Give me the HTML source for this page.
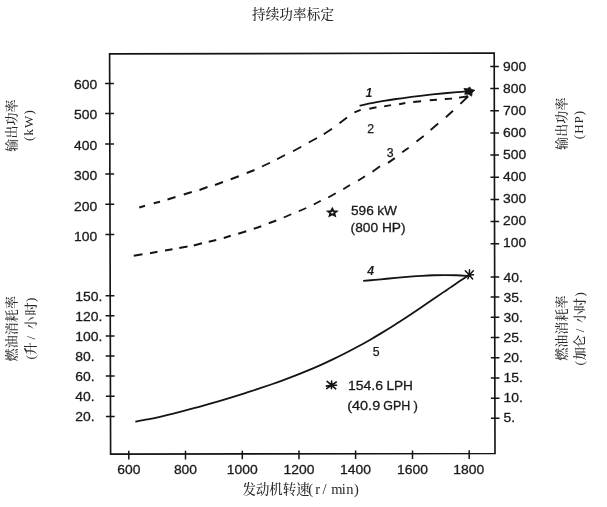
<!DOCTYPE html>
<html lang="zh"><head><meta charset="utf-8"><title>持续功率标定</title>
<style>html,body{margin:0;padding:0;background:#fff;}svg{display:block;}.n{font-family:"Liberation Sans","Noto Sans CJK SC",sans-serif;font-size:13.2px;fill:#1a1a1a;stroke:#1a1a1a;stroke-width:0.3px;}.c{font-family:"Liberation Serif","Noto Serif CJK SC",serif;font-size:13.5px;fill:#2a2a2a;font-weight:500;}.i{font-family:"Liberation Sans",sans-serif;font-size:12.3px;font-style:italic;fill:#1a1a1a;stroke:#1a1a1a;stroke-width:0.25px;}</style></head><body>
<svg width="607" height="507" viewBox="0 0 607 507">
<rect width="607" height="507" fill="#fff"/>
<polygon points="109.6,53.9 494.2,53.0 495.0,453.5 110.6,454.1" fill="none" stroke="#141414" stroke-width="1.65" stroke-linejoin="miter"/>
<path d="M105.07,83.50h8.8 M105.15,113.60h8.8 M105.22,143.90h8.8 M105.30,174.10h8.8 M105.38,204.30h8.8 M105.45,234.50h8.8 M105.60,295.70h8.8 M105.65,315.80h8.8 M105.70,336.00h8.8 M105.75,356.00h8.8 M105.81,376.10h8.8 M105.86,396.20h8.8 M105.91,416.40h8.8 M490.23,66.50h8.6 M490.27,88.60h8.6 M490.32,110.80h8.6 M490.36,132.90h8.6 M490.40,155.10h8.6 M490.45,177.20h8.6 M490.49,199.40h8.6 M490.54,221.60h8.6 M490.58,243.80h8.6 M490.65,276.90h8.6 M490.69,297.11h8.6 M490.73,317.32h8.6 M490.77,337.53h8.6 M490.81,357.74h8.6 M490.85,377.95h8.6 M490.89,398.16h8.6 M490.93,418.37h8.6 M128.80,450.87v8.6 M185.50,450.78v8.6 M242.30,450.69v8.6 M299.00,450.61v8.6 M355.60,450.52v8.6 M412.50,450.43v8.6 M469.20,450.34v8.6" fill="none" stroke="#141414" stroke-width="1.5"/>
<text class="n" x="74.00" y="88.50" text-anchor="start" textLength="23.20" lengthAdjust="spacingAndGlyphs">600</text>
<text class="n" x="74.00" y="119.00" text-anchor="start" textLength="23.20" lengthAdjust="spacingAndGlyphs">500</text>
<text class="n" x="74.00" y="149.50" text-anchor="start" textLength="23.20" lengthAdjust="spacingAndGlyphs">400</text>
<text class="n" x="74.00" y="180.00" text-anchor="start" textLength="23.20" lengthAdjust="spacingAndGlyphs">300</text>
<text class="n" x="74.00" y="210.50" text-anchor="start" textLength="23.20" lengthAdjust="spacingAndGlyphs">200</text>
<text class="n" x="74.00" y="241.00" text-anchor="start" textLength="23.20" lengthAdjust="spacingAndGlyphs">100</text>
<text class="n" x="75.20" y="300.60" text-anchor="start" textLength="27.07" lengthAdjust="spacingAndGlyphs">150.</text>
<text class="n" x="75.20" y="320.70" text-anchor="start" textLength="27.07" lengthAdjust="spacingAndGlyphs">120.</text>
<text class="n" x="75.20" y="340.90" text-anchor="start" textLength="27.07" lengthAdjust="spacingAndGlyphs">100.</text>
<text class="n" x="75.20" y="360.90" text-anchor="start" textLength="19.33" lengthAdjust="spacingAndGlyphs">80.</text>
<text class="n" x="75.20" y="381.00" text-anchor="start" textLength="19.33" lengthAdjust="spacingAndGlyphs">60.</text>
<text class="n" x="75.20" y="401.10" text-anchor="start" textLength="19.33" lengthAdjust="spacingAndGlyphs">40.</text>
<text class="n" x="75.20" y="421.30" text-anchor="start" textLength="19.33" lengthAdjust="spacingAndGlyphs">20.</text>
<text class="n" x="503.00" y="71.20" text-anchor="start" textLength="23.20" lengthAdjust="spacingAndGlyphs">900</text>
<text class="n" x="503.00" y="93.15" text-anchor="start" textLength="23.20" lengthAdjust="spacingAndGlyphs">800</text>
<text class="n" x="503.00" y="115.10" text-anchor="start" textLength="23.20" lengthAdjust="spacingAndGlyphs">700</text>
<text class="n" x="503.00" y="137.05" text-anchor="start" textLength="23.20" lengthAdjust="spacingAndGlyphs">600</text>
<text class="n" x="503.00" y="159.00" text-anchor="start" textLength="23.20" lengthAdjust="spacingAndGlyphs">500</text>
<text class="n" x="503.00" y="180.95" text-anchor="start" textLength="23.20" lengthAdjust="spacingAndGlyphs">400</text>
<text class="n" x="503.00" y="202.90" text-anchor="start" textLength="23.20" lengthAdjust="spacingAndGlyphs">300</text>
<text class="n" x="503.00" y="224.85" text-anchor="start" textLength="23.20" lengthAdjust="spacingAndGlyphs">200</text>
<text class="n" x="503.00" y="246.80" text-anchor="start" textLength="23.20" lengthAdjust="spacingAndGlyphs">100</text>
<text class="n" x="503.50" y="281.60" text-anchor="start" textLength="19.33" lengthAdjust="spacingAndGlyphs">40.</text>
<text class="n" x="503.50" y="301.70" text-anchor="start" textLength="19.33" lengthAdjust="spacingAndGlyphs">35.</text>
<text class="n" x="503.50" y="321.80" text-anchor="start" textLength="19.33" lengthAdjust="spacingAndGlyphs">30.</text>
<text class="n" x="503.50" y="341.90" text-anchor="start" textLength="19.33" lengthAdjust="spacingAndGlyphs">25.</text>
<text class="n" x="503.50" y="362.00" text-anchor="start" textLength="19.33" lengthAdjust="spacingAndGlyphs">20.</text>
<text class="n" x="503.50" y="382.10" text-anchor="start" textLength="19.33" lengthAdjust="spacingAndGlyphs">15.</text>
<text class="n" x="503.50" y="402.20" text-anchor="start" textLength="19.33" lengthAdjust="spacingAndGlyphs">10.</text>
<text class="n" x="503.50" y="422.30" text-anchor="start" textLength="11.60" lengthAdjust="spacingAndGlyphs">5.</text>
<text class="n" x="128.80" y="473.60" text-anchor="middle" textLength="23.20" lengthAdjust="spacingAndGlyphs">600</text>
<text class="n" x="185.50" y="473.60" text-anchor="middle" textLength="23.20" lengthAdjust="spacingAndGlyphs">800</text>
<text class="n" x="242.30" y="473.60" text-anchor="middle" textLength="30.94" lengthAdjust="spacingAndGlyphs">1000</text>
<text class="n" x="299.00" y="473.60" text-anchor="middle" textLength="30.94" lengthAdjust="spacingAndGlyphs">1200</text>
<text class="n" x="355.60" y="473.60" text-anchor="middle" textLength="30.94" lengthAdjust="spacingAndGlyphs">1400</text>
<text class="n" x="412.50" y="473.60" text-anchor="middle" textLength="30.94" lengthAdjust="spacingAndGlyphs">1600</text>
<text class="n" x="468.70" y="473.60" text-anchor="middle" textLength="30.94" lengthAdjust="spacingAndGlyphs">1800</text>
<text class="c" x="252" y="19" textLength="82" lengthAdjust="spacing" style="font-size:13.6px">持续功率标定</text>
<text class="c" x="242.6" y="494.4" style="font-size:13.4px">发动机转速</text>
<text class="c" x="308.2 315.2 322.5 331.2 341.8 346.2 354.1" y="494.4" style="font-size:14.5px">(r/min)</text>
<text class="c" transform="translate(16.2,125.5) rotate(-90)" text-anchor="middle" style="font-size:13px;letter-spacing:0.1px" >输出功率</text>
<text class="c" transform="translate(33.2,125.1) rotate(-90)" text-anchor="middle" style="font-size:13px;letter-spacing:1.13px" >(kW)</text>
<text class="c" transform="translate(16.2,328.7) rotate(-90)" text-anchor="middle" style="font-size:13px;letter-spacing:0.1px" >燃油消耗率</text>
<text class="c" transform="translate(34.8,358.0) rotate(-90)" style="font-size:13px" x="-1.6 2.8 18.4 28.5 42.4 56.0" y="0">(升/小时)</text>
<text class="c" transform="translate(565.6,123.7) rotate(-90)" text-anchor="middle" style="font-size:13px;letter-spacing:0.1px" >输出功率</text>
<text class="c" transform="translate(583.0,124.5) rotate(-90)" text-anchor="middle" style="font-size:13px;letter-spacing:1.0px" >(HP)</text>
<text class="c" transform="translate(566.2,328.1) rotate(-90)" text-anchor="middle" style="font-size:13px;letter-spacing:0.1px" >燃油消耗率</text>
<text class="c" transform="translate(584.1,363.6) rotate(-90)" style="font-size:13px" x="-2.0 3.6 15.6 31.4 40.3 52.4 67.2" y="0">(加仑/小时)</text>
<path d="M359.60,105.64 C361.63,105.22 367.70,103.93 371.76,103.15 C375.81,102.37 379.86,101.63 383.91,100.94 C387.96,100.25 392.01,99.61 396.07,99.00 C400.12,98.38 404.17,97.82 408.22,97.28 C412.27,96.74 416.33,96.24 420.38,95.77 C424.43,95.29 428.48,94.85 432.53,94.43 C436.59,94.01 440.64,93.62 444.69,93.24 C448.74,92.87 452.79,92.52 456.84,92.18 C460.90,91.85 466.97,91.38 469.00,91.22" fill="none" stroke="#141414" stroke-width="1.8" stroke-linecap="butt"/>
<path d="M363.20,280.88 C365.15,280.71 371.01,280.21 374.91,279.85 C378.81,279.49 382.72,279.11 386.62,278.74 C390.53,278.37 394.43,277.99 398.33,277.64 C402.24,277.29 406.14,276.94 410.04,276.64 C413.95,276.33 417.85,276.04 421.76,275.81 C425.66,275.58 429.56,275.38 433.47,275.25 C437.37,275.12 441.27,275.03 445.18,275.03 C449.08,275.03 452.99,275.09 456.89,275.24 C460.79,275.40 466.65,275.85 468.60,275.97" fill="none" stroke="#141414" stroke-width="1.8" stroke-linecap="butt"/>
<path d="M135.30,421.69 C137.36,421.32 143.53,420.25 147.64,419.43 C151.76,418.61 155.87,417.71 159.99,416.78 C164.10,415.84 168.22,414.85 172.33,413.84 C176.45,412.82 180.56,411.76 184.68,410.68 C188.79,409.60 192.91,408.48 197.02,407.35 C201.14,406.22 205.25,405.06 209.37,403.88 C213.48,402.71 217.60,401.51 221.71,400.30 C225.83,399.08 229.94,397.84 234.06,396.58 C238.17,395.32 242.29,394.04 246.40,392.73 C250.51,391.42 254.63,390.09 258.74,388.72 C262.86,387.35 266.97,385.95 271.09,384.51 C275.20,383.08 279.32,381.61 283.43,380.09 C287.55,378.57 291.66,377.01 295.78,375.39 C299.89,373.78 304.01,372.12 308.12,370.40 C312.24,368.68 316.35,366.91 320.47,365.08 C324.58,363.24 328.70,361.35 332.81,359.39 C336.93,357.42 341.04,355.40 345.16,353.30 C349.27,351.21 353.39,349.05 357.50,346.82 C361.61,344.58 365.73,342.28 369.84,339.92 C373.96,337.55 378.07,335.12 382.19,332.63 C386.30,330.13 390.42,327.57 394.53,324.97 C398.65,322.36 402.76,319.68 406.88,316.98 C410.99,314.28 415.11,311.51 419.22,308.74 C423.34,305.96 427.45,303.14 431.57,300.33 C435.68,297.52 439.80,294.68 443.91,291.88 C448.03,289.08 452.14,286.26 456.26,283.52 C460.37,280.78 466.54,276.79 468.60,275.44" fill="none" stroke="#141414" stroke-width="1.8" stroke-linecap="butt"/>
<path d="M139.25,207.50L145.00,205.75 M153.75,203.25L160.00,201.75 M167.50,199.50L175.50,197.00 M183.75,194.50L191.75,192.00 M199.50,190.00L207.50,187.00 M215.00,185.00L223.00,182.00 M230.75,179.25L238.75,176.25 M246.75,173.00L254.50,170.00 M262.00,166.50L270.00,162.75 M277.00,159.25L285.00,155.00 M293.00,151.25L301.25,146.75 M308.75,142.50L317.00,138.00 M323.75,134.25L332.00,128.75 M339.50,123.25L347.00,117.50 M354.40,112.40L360.70,109.80 M369.30,108.80L376.50,107.30 M384.10,106.40L391.00,105.10 M399.10,104.20L405.30,103.00 M413.20,102.00L421.10,101.20 M429.70,100.30L436.90,99.70 M444.80,99.00L452.10,98.60 M459.00,97.60L468.20,96.20 M133.75,255.75L142.50,254.25 M150.00,253.25L157.50,251.75 M165.00,250.50L172.50,249.25 M179.25,248.00L187.50,246.50 M193.75,245.50L202.00,243.25 M208.75,241.75L216.25,240.00 M223.75,238.00L230.75,235.75 M238.25,233.75L246.25,231.25 M253.75,228.75L261.25,226.25 M268.75,223.25L276.25,220.50 M283.75,217.50L291.25,214.25 M298.75,211.25L306.25,208.00 M313.75,204.50L320.75,200.75 M328.25,197.50L335.75,193.25 M343.25,189.25L350.00,185.00 M358.00,180.75L365.00,176.25 M372.50,171.75L380.00,166.25 M388.00,162.90L394.80,158.10 M402.20,152.20L408.70,147.70 M416.50,141.40L423.70,135.90 M430.60,129.90L438.20,123.60 M445.90,117.30L453.00,110.80 M460.40,103.90L468.20,96.20" fill="none" stroke="#141414" stroke-width="1.9" stroke-linecap="butt"/>
<polygon points="469.8,87.0 471.0,89.2 474.8,90.3 472.2,92.6 471.6,96.2 468.8,94.2 464.7,94.2 465.7,91.6 463.9,88.5 467.4,88.7" fill="#141414" stroke="#141414" stroke-width="0.8" stroke-linejoin="round"/>
<g transform="translate(332.3,212.6) scale(1,0.86)"><polygon points="0.00,-4.30 1.18,-1.62 4.09,-1.33 1.90,0.62 2.53,3.48 0.00,2.00 -2.53,3.48 -1.90,0.62 -4.09,-1.33 -1.18,-1.62" fill="#fff" stroke="#141414" stroke-width="2.1" stroke-linejoin="miter"/></g>
<path d="M469.30,274.90l-4.00,-4.20 M469.30,274.90l0.20,-5.20 M469.30,274.90l4.00,-4.20 M469.30,274.90l4.20,-0.20 M469.30,274.90l3.30,4.00 M469.30,274.90l-1.40,3.80" stroke="#141414" stroke-width="1.5" fill="none" stroke-linecap="round"/><circle cx="469.30" cy="274.90" r="1.7" fill="#141414"/>
<path d="M331.60,385.20l0.00,-4.10 M331.60,385.20l-4.50,-3.80 M331.60,385.20l-5.20,0.90 M331.60,385.20l-4.90,3.40 M331.60,385.20l-0.20,3.40 M331.60,385.20l4.10,3.60 M331.60,385.20l5.00,0.00 M331.60,385.20l4.70,-3.20" stroke="#141414" stroke-width="1.6" fill="none" stroke-linecap="round"/><circle cx="331.60" cy="385.20" r="1.8" fill="#141414"/>
<text class="i" x="365.6" y="97.2" style="font-weight:700;stroke:none">1</text>
<text class="i" x="367.3" y="133" style="font-style:normal">2</text>
<text class="i" x="386.7" y="156.6" style="font-style:normal">3</text>
<text class="i" x="367.2" y="275" style="font-weight:700;stroke:none">4</text>
<text class="i" x="372.8" y="356" style="font-style:normal">5</text>
<text class="n" x="351" y="214.7" textLength="22.8" lengthAdjust="spacingAndGlyphs" style="font-size:13.6px">596</text>
<text class="n" x="377.2" y="214.7" textLength="19.8" lengthAdjust="spacingAndGlyphs" style="font-size:13.6px">kW</text>
<text class="n" x="350.6" y="231.5" textLength="55" lengthAdjust="spacingAndGlyphs" style="font-size:13.4px">(800 HP)</text>
<text class="n" x="348" y="389.9" textLength="35" lengthAdjust="spacingAndGlyphs">154.6</text>
<text class="n" x="386.4" y="389.9" textLength="26.6" lengthAdjust="spacingAndGlyphs">LPH</text>
<text class="n" x="347.2" y="409.5" textLength="33" lengthAdjust="spacingAndGlyphs">(40.9</text>
<text class="n" x="383.2" y="409.5" textLength="27" lengthAdjust="spacingAndGlyphs">GPH</text>
<text class="n" x="413.4" y="409.5">)</text>
</svg></body></html>
